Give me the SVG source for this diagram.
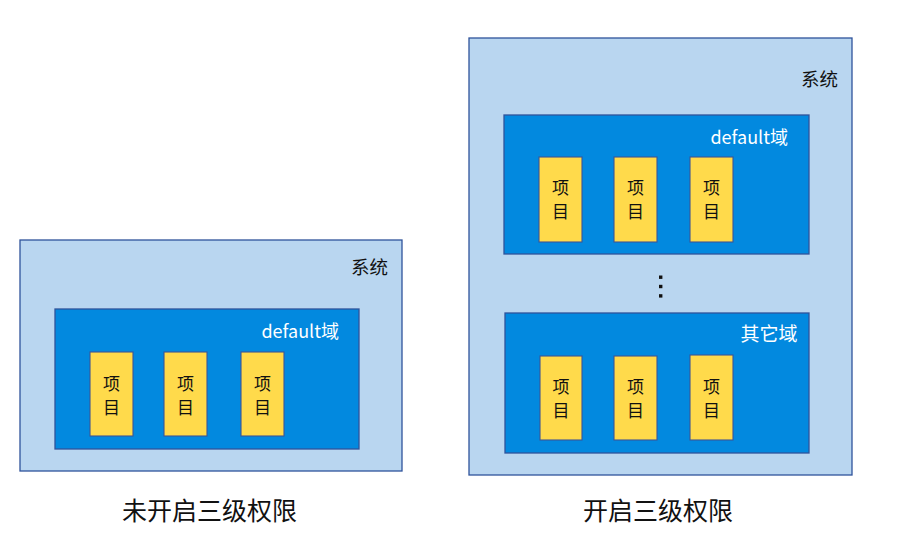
<svg xmlns="http://www.w3.org/2000/svg" width="903" height="537" viewBox="0 0 903 537">
<style>
.sys{fill:#B9D6F0;stroke:#2F539B;stroke-width:1.3}
.dom{fill:#0289DF;stroke:#2F539B;stroke-width:1.3}
.item{fill:#FFDA4B;stroke:#3C5596;stroke-width:1.1}
.t{font-family:"Noto Sans CJK SC","Noto Sans",sans-serif}
.sl{font-size:18.5px;fill:#111;text-anchor:end}
.dl{font-size:18px;fill:#fff;text-anchor:end}
.ol{font-size:19px;fill:#fff;text-anchor:end}
.il{font-size:17px;fill:#111;text-anchor:middle}
.cap{font-size:25px;fill:#111;text-anchor:middle}
.dot{fill:#111}
</style>
<rect width="903" height="537" fill="#ffffff"/>
<g id="sys-left">
<rect class="sys" x="20" y="240" width="382" height="231"/>
<text class="t sl" x="388" y="273.5">系统</text>
</g>
<g id="dom-left">
<rect class="dom" x="55" y="309" width="304" height="140"/>
<text class="t dl" x="339" y="338">default域</text>
</g>
<g id="item-l1"><rect class="item" x="90" y="352" width="43" height="84"/><text class="t il" x="111.5" y="390">项</text><text class="t il" x="111.5" y="413.5">目</text></g>
<g id="item-l2"><rect class="item" x="164" y="352" width="43" height="84"/><text class="t il" x="185.5" y="390">项</text><text class="t il" x="185.5" y="413.5">目</text></g>
<g id="item-l3"><rect class="item" x="241" y="352" width="43" height="84"/><text class="t il" x="262.5" y="390">项</text><text class="t il" x="262.5" y="413.5">目</text></g>
<g id="cap-left"><text class="t cap" x="209.5" y="520">未开启三级权限</text></g>

<g id="sys-right">
<rect class="sys" x="469" y="38" width="383" height="437"/>
<text class="t sl" x="838" y="85.5">系统</text>
</g>
<g id="dom-right-default">
<rect class="dom" x="504" y="115" width="305" height="139"/>
<text class="t dl" x="788" y="144">default域</text>
</g>
<g id="item-r1"><rect class="item" x="539" y="157" width="43" height="85"/><text class="t il" x="560.5" y="194">项</text><text class="t il" x="560.5" y="217.5">目</text></g>
<g id="item-r2"><rect class="item" x="614" y="157" width="43" height="85"/><text class="t il" x="635.5" y="194">项</text><text class="t il" x="635.5" y="217.5">目</text></g>
<g id="item-r3"><rect class="item" x="690" y="157" width="43" height="85"/><text class="t il" x="711.5" y="194">项</text><text class="t il" x="711.5" y="217.5">目</text></g>
<g id="ellipsis">
<rect class="dot" x="659" y="275.5" width="3.4" height="3.4"/>
<rect class="dot" x="659" y="284.8" width="3.4" height="3.4"/>
<rect class="dot" x="659" y="294.2" width="3.4" height="3.4"/>
</g>
<g id="dom-right-other">
<rect class="dom" x="505" y="313" width="304" height="140"/>
<text class="t ol" x="797.5" y="340.5">其它域</text>
</g>
<g id="item-r4"><rect class="item" x="540" y="356" width="42" height="84"/><text class="t il" x="561" y="393">项</text><text class="t il" x="561" y="416.5">目</text></g>
<g id="item-r5"><rect class="item" x="614" y="356" width="43" height="84"/><text class="t il" x="635.5" y="393">项</text><text class="t il" x="635.5" y="416.5">目</text></g>
<g id="item-r6"><rect class="item" x="690" y="355" width="43" height="85"/><text class="t il" x="711.5" y="393">项</text><text class="t il" x="711.5" y="416.5">目</text></g>
<g id="cap-right"><text class="t cap" x="658" y="520">开启三级权限</text></g>
<g id="connectors"></g>
</svg>
